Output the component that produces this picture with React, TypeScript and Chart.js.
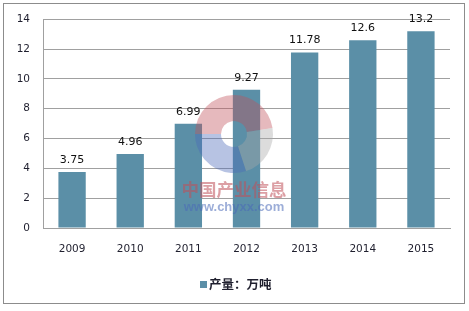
import React, { useEffect, useRef } from "react";
import { Chart, registerables } from "chart.js";

Chart.register(...registerables);

const categories = ["2009", "2010", "2011", "2012", "2013", "2014", "2015"];
const seriesName = "产量：万吨";
const values = [3.75, 4.96, 6.99, 9.27, 11.78, 12.6, 13.2];
const valueLabels = ["3.75", "4.96", "6.99", "9.27", "11.78", "12.6", "13.2"];
const yTicks = [0, 2, 4, 6, 8, 10, 12, 14];
const watermarkTitle = "中国产业信息";
const watermarkUrl = "www.chyxx.com";

const BAR_COLOR = "#5b8fa7";
const TEXT_COLOR = "#1f1f2e";
const GRID_COLOR = "#a0a0a0";

const dataLabelPlugin = {
  id: "dataLabels",
  afterDatasetsDraw(chart: any) {
    const ctx = chart.ctx;
    const meta = chart.getDatasetMeta(0);
    ctx.save();
    ctx.font = "11px 'DejaVu Sans'";
    ctx.fillStyle = "#111";
    ctx.textAlign = "center";
    ctx.textBaseline = "middle";
    meta.data.forEach((bar: any, i: number) => {
      ctx.fillText(valueLabels[i], bar.x, bar.y - 12);
    });
    ctx.restore();
  },
};

const legendPlugin = {
  id: "customLegend",
  afterDraw(chart: any) {
    const ctx = chart.ctx;
    const ds = chart.data.datasets[0];
    const y = chart.height - 26.5;
    const x = (chart.chartArea.left + chart.chartArea.right) / 2 - 46.5;
    ctx.save();
    ctx.fillStyle = ds.backgroundColor;
    ctx.fillRect(x, y - 3.5, 7, 7);
    ctx.fillStyle = TEXT_COLOR;
    ctx.font = "bold 12.5px 'Noto Sans CJK SC'";
    ctx.textAlign = "left";
    ctx.textBaseline = "middle";
    ctx.fillText(ds.label, x + 9, y);
    ctx.restore();
  },
};

const watermarkPlugin = {
  id: "watermark",
  afterDatasetsDraw(chart: any) {
    const ctx = chart.ctx;
    const cx = (chart.chartArea.left + chart.chartArea.right) / 2 - 12.5;
    const cy = 134;
    const rOut = 39;
    const rIn = 13;
    const ring = (a0: number, a1: number, color: string) => {
      ctx.fillStyle = color;
      ctx.beginPath();
      ctx.arc(cx, cy, rOut, a0, a1);
      ctx.arc(cx, cy, rIn, a1, a0, true);
      ctx.closePath();
      ctx.fill();
    };
    ctx.save();
    ctx.globalAlpha = 0.4;
    ring(Math.PI * 1.0, Math.PI * 1.95, "#c0505a");
    ring(Math.PI * 0.4, Math.PI * 1.0, "#4a6ab8");
    ring(Math.PI * 1.95, Math.PI * 2.4, "#a8a8a8");
    ctx.globalAlpha = 0.55;
    ctx.textAlign = "center";
    ctx.textBaseline = "middle";
    ctx.fillStyle = "#c0505a";
    ctx.font = "bold 17.5px 'Noto Sans CJK SC'";
    ctx.fillText(watermarkTitle, cx, 189);
    ctx.fillStyle = "#4a6ab8";
    ctx.font = "bold 13px 'Liberation Sans'";
    ctx.fillText(watermarkUrl, cx, 207);
    ctx.restore();
  },
};

export default function App() {
  const canvasRef = useRef<HTMLCanvasElement>(null);

  useEffect(() => {
    if (!canvasRef.current) return;
    const chart = new Chart(canvasRef.current, {
      type: "bar",
      data: {
        labels: categories,
        datasets: [
          {
            label: seriesName,
            data: values,
            backgroundColor: BAR_COLOR,
            borderWidth: 0,
            categoryPercentage: 1,
            barPercentage: 0.47,
          },
        ],
      },
      options: {
        animation: false,
        responsive: false,
        maintainAspectRatio: false,
        layout: { padding: { left: 0, right: 19, top: 17, bottom: 44 } },
        plugins: {
          tooltip: { enabled: false },
          legend: { display: false },
        },
        scales: {
          x: {
            grid: { display: false, drawTicks: false },
            border: { display: true, color: GRID_COLOR },
            ticks: {
              color: TEXT_COLOR,
              padding: 15,
              font: { family: "'DejaVu Sans'", size: 10.5 },
            },
            afterFit: (axis: any) => {
              axis.height = 39;
            },
          },
          y: {
            min: 0,
            max: 14,
            afterBuildTicks: (axis: any) => {
              axis.ticks = yTicks.map((v) => ({ value: v }));
            },
            grid: { color: GRID_COLOR, drawTicks: false },
            border: { display: true, color: GRID_COLOR },
            ticks: {
              color: TEXT_COLOR,
              padding: 13,
              font: { family: "'DejaVu Sans'", size: 10.5 },
            },
            afterFit: (axis: any) => {
              axis.width = 43;
            },
          },
        },
      },
      plugins: [watermarkPlugin, dataLabelPlugin, legendPlugin],
    });
    return () => chart.destroy();
  }, []);

  return (
    <div style={{ position: "fixed", left: 0, top: 0, width: 469, height: 311, background: "#fff" }}>
      <div
        style={{
          position: "absolute",
          left: 3,
          top: 3,
          width: 460,
          height: 299,
          border: "1px solid #8c8c8c",
        }}
      />
      <canvas ref={canvasRef} width={469} height={311} style={{ position: "absolute", left: 0, top: 0 }} />
    </div>
  );
}
